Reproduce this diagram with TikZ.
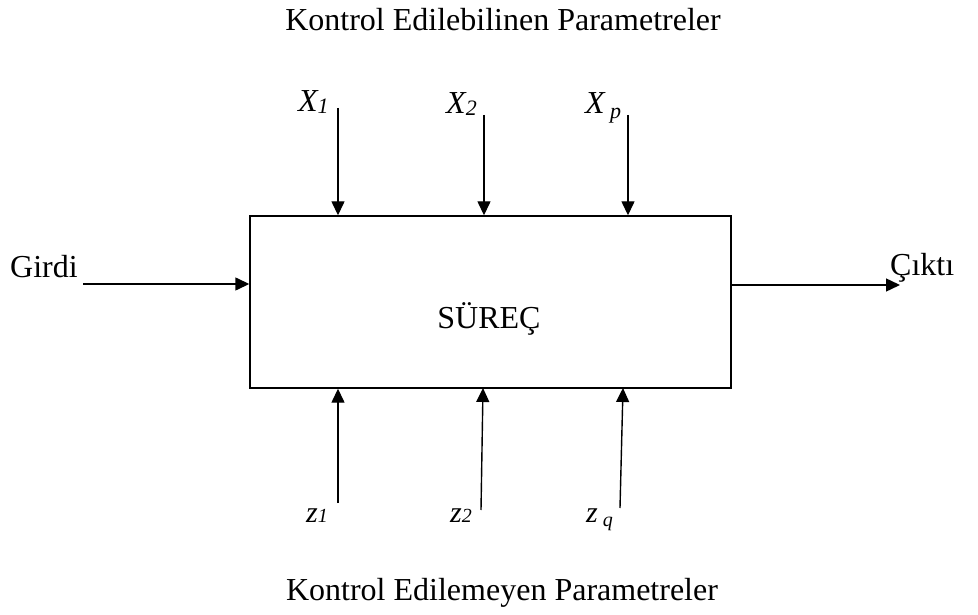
\documentclass[tikz,border=0pt]{standalone}
\usepackage{fontspec}
\setmainfont{Liberation Serif}
\usetikzlibrary{arrows.meta}
\begin{document}
\begin{tikzpicture}[x=1pt,y=-1pt,
  conn/.style={line width=1.4pt,-{Triangle[length=14pt,width=13pt]}},
  lbl/.style={font=\fontsize{32}{36}\selectfont,inner sep=0pt},
  var/.style={font=\fontsize{32}{36}\selectfont\itshape,inner sep=0pt},
  zvar/.style={font=\fontsize{30}{34}\selectfont\itshape,inner sep=0pt}]
\useasboundingbox (0,0) rectangle (978,615);
\node[draw,line width=1.4pt,minimum width=481pt,minimum height=172pt,inner sep=0pt] (box) at (490.5,302) {};
\node[lbl,anchor=base] (proc) at (489,328) {SÜREÇ};
\node[lbl,anchor=base] (top) at (503,31) {Kontrol Edilebilinen Parametreler};
\node[lbl,anchor=base] (bot) at (502,600) {Kontrol Edilemeyen Parametreler};
\node[lbl,anchor=base west] (in) at (10,277) {Girdi};
\node[lbl,anchor=base west] (out) at (890,275) {Çıktı};
\coordinate (inS) at (83,284);
\coordinate (outE) at (900,285);
\draw[conn] (inS) -- (box.west |- inS);
\draw[conn] (box.east |- outE) -- (outE);
% controllable
\node[var,anchor=base west] (x1) at (298,112) {X\raisebox{-2pt}{\fontsize{22}{24}\selectfont 1}};
\node[var,anchor=base west] (x2) at (446,114) {X\raisebox{-2pt}{\fontsize{22}{24}\selectfont 2}};
\node[var,anchor=base west] (xp) at (585,114) {X\,\raisebox{-5pt}{\fontsize{22}{24}\selectfont p}};
\coordinate (x1s) at (338,108);
\coordinate (x2s) at (484,115);
\coordinate (xps) at (628,115);
\draw[conn] (x1s) -- (x1s |- box.north);
\draw[conn] (x2s) -- (x2s |- box.north);
\draw[conn] (xps) -- (xps |- box.north);
% uncontrollable
\node[zvar,anchor=base west] (z1) at (306,522) {z{\fontsize{20}{22}\selectfont 1}};
\node[zvar,anchor=base west] (z2) at (450,522) {z{\fontsize{20}{22}\selectfont 2}};
\node[zvar,anchor=base west] (zq) at (586,522) {z\,\raisebox{-4pt}{\fontsize{20}{22}\selectfont q}};
\coordinate (z1s) at (338,503);
\coordinate (z2s) at (481,510);
\coordinate (zqs) at (620,508);
\draw[conn] (z1s) -- (z1s |- box.south);
\draw[conn] (z2s) -- (483,388);
\draw[conn] (zqs) -- (623,388);
\end{tikzpicture}
\end{document}
